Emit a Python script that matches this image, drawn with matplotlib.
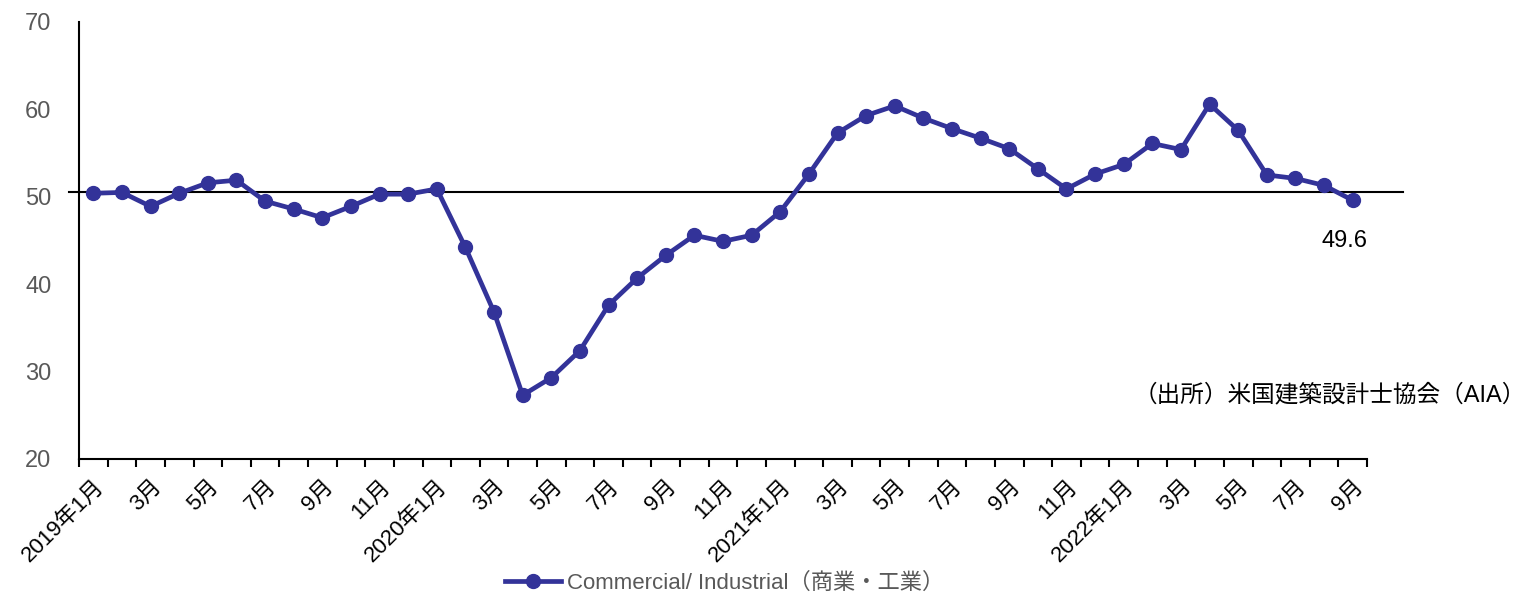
import matplotlib
matplotlib.use('Agg')
import matplotlib.pyplot as plt

plt.rcParams['font.family'] = ['Liberation Sans', 'Noto Sans CJK JP', 'DejaVu Sans']

# AIA billings index, Commercial/Industrial, 2019/1 - 2022/9
months = ['2019年1月', '2月', '3月', '4月', '5月', '6月', '7月', '8月', '9月', '10月', '11月', '12月',
          '2020年1月', '2月', '3月', '4月', '5月', '6月', '7月', '8月', '9月', '10月', '11月', '12月',
          '2021年1月', '2月', '3月', '4月', '5月', '6月', '7月', '8月', '9月', '10月', '11月', '12月',
          '2022年1月', '2月', '3月', '4月', '5月', '6月', '7月', '8月', '9月']
commercial = [50.4, 50.5, 48.9, 50.4, 51.6, 51.9, 49.5, 48.6, 47.6, 48.9, 50.3, 50.3,
              50.9, 44.2, 36.8, 27.3, 29.3, 32.4, 37.6, 40.7, 43.3, 45.6, 44.9, 45.6,
              48.3, 52.6, 57.3, 59.3, 60.4, 59.0, 57.8, 56.7, 55.5, 53.2, 50.9, 52.6,
              53.7, 56.1, 55.4, 60.6, 57.6, 52.5, 52.1, 51.3, 49.6]
ref_level = 50.5
yticks = [20, 30, 40, 50, 60, 70]

color = '#333399'
gray = '#595959'

fig = plt.figure(figsize=(15.32, 5.96), dpi=100)
ax = fig.add_axes([0.0516, 0.2299, 0.8407, 0.7332])

x = list(range(len(months)))
ax.plot(x, commercial, color=color, lw=3.4, marker='o', ms=10,
        label='Commercial/ Industrial（商業・工業）', zorder=3)

# reference line, drawn a bit past both ends of the axis
ax.plot([-0.008, 1.028], [ref_level, ref_level], color='black', lw=1.5,
        transform=ax.get_yaxis_transform(), clip_on=False, zorder=2)

ax.annotate(f'{commercial[-1]:.1f}', (x[-1], commercial[-1]), xytext=(-6, -29),
            textcoords='offset points', ha='center', va='center', fontsize=17)

ax.set_xlim(-0.5, len(months) - 0.5)
ax.set_ylim(20, 70)
ax.set_yticks(yticks)
ax.tick_params(axis='y', length=0, labelsize=17, labelcolor=gray, pad=20)

ax.set_xticks(x[::2])
ax.set_xticklabels(months[::2], rotation=45, ha='right', rotation_mode='anchor', fontsize=16)
ax.set_xticks([i - 0.5 for i in range(len(months) + 1)], minor=True)
ax.tick_params(axis='x', which='major', length=0, pad=12)
ax.tick_params(axis='x', which='minor', length=6, width=1.5, direction='out')

for s in ['top', 'right']:
    ax.spines[s].set_visible(False)
for s in ['left', 'bottom']:
    ax.spines[s].set_linewidth(1.5)

fig.text(0.996, 0.337, '（出所）米国建築設計士協会（AIA）', ha='right', va='center', fontsize=17)

leg = fig.legend(loc='center', bbox_to_anchor=(0.473, 0.022), frameon=False, fontsize=16,
                 handlelength=2.5, handletextpad=0.25)
for t in leg.get_texts():
    t.set_color(gray)

fig.savefig('out.png', dpi=100)
